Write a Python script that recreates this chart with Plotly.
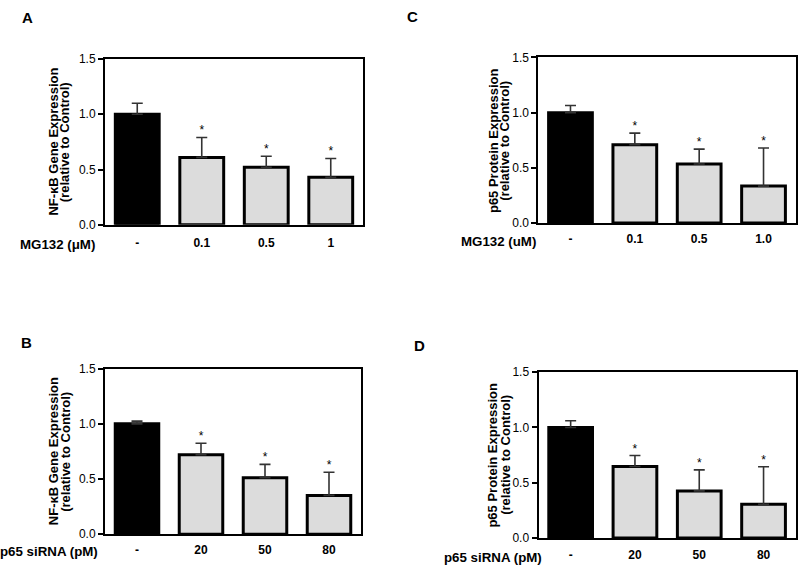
import plotly.graph_objects as go

# ---- data ----
cats_mg = ["-", "0.1", "0.5", "1"]
cats_mg_c = ["-", "0.1", "0.5", "1.0"]
cats_si = ["-", "20", "50", "80"]

a_mean = [1.00, 0.61, 0.52, 0.43]
a_err = [0.10, 0.18, 0.10, 0.17]
c_mean = [1.00, 0.71, 0.535, 0.335]
c_err = [0.065, 0.105, 0.135, 0.345]
b_mean = [1.00, 0.72, 0.513, 0.352]
b_err = [0.025, 0.105, 0.12, 0.21]
d_mean = [1.00, 0.646, 0.426, 0.305]
d_err = [0.06, 0.10, 0.19, 0.34]
sig = ["", "*", "*", "*"]

title_nfkb = ["NF-\u03baB Gene Expression", "(relative to Control)"]
title_p65 = ["p65 Protein Expression", "(relative to Control)"]

FONT = "Liberation Sans, Arial, sans-serif"
W, H = 800, 573

def dom(x0, x1, ytop, ybot):
    return (x0 / W, x1 / W), (1 - ybot / H, 1 - ytop / H)

panels = [
    dict(letter="A", lpos=(27, 11), cats=cats_mg, mean=a_mean, err=a_err, xlab="MG132 (\u03bcM)",
         ytitle=title_nfkb, tshift=(-51.3, -39.7),
         lshift=-8, lab_off=20, box=dom(105, 363, 53.3, 223.3)),
    dict(letter="C", lpos=(412, 10), cats=cats_mg_c, mean=c_mean, err=c_err, xlab="MG132 (uM)",
         ytitle=title_p65, tshift=(-45.5, -33.8),
         lshift=0, lab_off=18, box=dom(538.3, 795.7, 51.7, 221.5)),
    dict(letter="B", lpos=(26, 344), cats=cats_si, mean=b_mean, err=b_err, xlab="p65 siRNA (pM)",
         ytitle=title_nfkb, tshift=(-51.3, -39.7),
         lshift=-5, lab_off=17, box=dom(105, 361, 370.7, 540.5)),
    dict(letter="D", lpos=(419, 347), cats=cats_si, mean=d_mean, err=d_err, xlab="p65 siRNA (pM)",
         ytitle=title_p65, tshift=(-46, -33.8),
         lshift=5.5, lab_off=19, box=dom(538.5, 795.7, 374.3, 544.3)),
]

fig = go.Figure()
layout = dict(width=W, height=H, margin=dict(l=0, r=0, t=0, b=0),
              paper_bgcolor="white", plot_bgcolor="white", showlegend=False,
              font=dict(family=FONT, color="black"), annotations=[])

for i, p in enumerate(panels):
    n = "" if i == 0 else str(i + 1)
    xa, ya = "x" + n, "y" + n
    xd, yd = p["box"]
    fills = ["black"] + ["#dcdcdc"] * (len(p["cats"]) - 1)
    fig.add_trace(go.Bar(
        x=p["cats"], y=p["mean"], xaxis=xa, yaxis=ya, width=0.68,
        marker=dict(color=fills, line=dict(color="black", width=3)),
        error_y=dict(type="data", symmetric=False, array=p["err"],
                     arrayminus=[0] * len(p["err"]), color="#333", thickness=1.6, width=5.5),
    ))
    tops = [m + e for m, e in zip(p["mean"], p["err"])]
    fig.add_trace(go.Scatter(
        x=p["cats"], y=tops, xaxis=xa, yaxis=ya, mode="text", text=sig,
        textposition="top center", textfont=dict(size=12, family=FONT, color="black"),
    ))
    layout["xaxis" + n] = dict(domain=list(xd), anchor=ya, type="category",
                               range=[-0.5, 3.5], showline=True, linecolor="black",
                               linewidth=2, mirror=True, ticks="", showgrid=False,
                               tickfont=dict(size=12, family=FONT, color="black"),
                               ticklabelstandoff=int(p["lab_off"] - 14), fixedrange=True,
                               tickprefix="<b>", ticksuffix="</b>")
    layout["yaxis" + n] = dict(domain=list(yd), anchor=xa, range=[0, 1.5],
                               tickvals=[0, 0.5, 1.0, 1.5], ticktext=["0.0", "0.5", "1.0", "1.5"],
                               showline=True, linecolor="black", linewidth=2, mirror=True,
                               ticks="outside", ticklen=5, tickwidth=1.5, tickcolor="black",
                               showgrid=False, zeroline=False,
                               tickfont=dict(size=12, family=FONT, color="black"),
                               fixedrange=True, tickprefix="<b>", ticksuffix="</b>")
    # y title, one annotation per line for tight leading
    for line, sh in zip(p["ytitle"], p["tshift"]):
        layout["annotations"].append(dict(
            text="<b>" + line + "</b>", xref="paper", yref="paper",
            x=xd[0], xshift=sh, xanchor="center",
            y=(yd[0] + yd[1]) / 2, yanchor="middle", textangle=-90,
            showarrow=False, font=dict(size=13, family=FONT, color="black")))
    # x row label
    layout["annotations"].append(dict(
        text="<b>" + p["xlab"] + "</b>", xref="paper", yref="paper",
        x=xd[0], xshift=p["lshift"], xanchor="right",
        y=yd[0], yshift=-p["lab_off"], yanchor="middle",
        showarrow=False, font=dict(size=13.3, family=FONT, color="black")))
    lx, ly = p["lpos"]
    layout["annotations"].append(dict(
        text="<b>" + p["letter"] + "</b>", xref="paper", yref="paper",
        x=lx / W, y=1 - ly / H, xanchor="center", yanchor="middle",
        showarrow=False, font=dict(size=15, family=FONT, color="black")))

fig.update_layout(**layout)
fig.write_html("out.html", config={"displayModeBar": False},
               post_script="document.body.style.margin='0px';document.body.style.overflow='hidden';")
